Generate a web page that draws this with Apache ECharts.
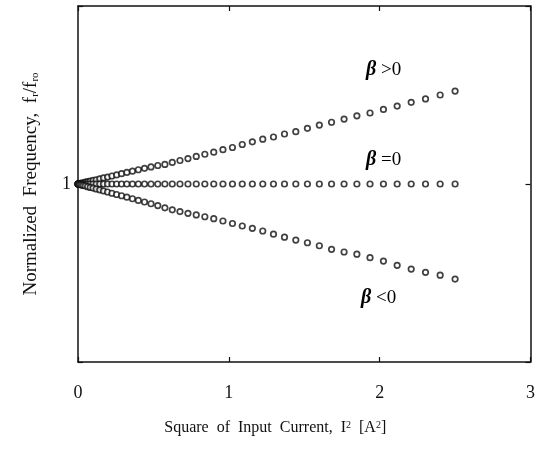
<!DOCTYPE html>
<html>
<head>
<meta charset="utf-8">
<script src="https://cdn.jsdelivr.net/npm/echarts@6/dist/echarts.min.js"></script>
<style>
html,body{margin:0;padding:0;background:#fff;}
#chart{width:538px;height:457px;}
</style>
</head>
<body>
<div id="chart"></div>
<script>
// Square of input current I^2 [A^2] for each measured point
const currentSquared = [
  0.000, 0.001, 0.004, 0.009, 0.016, 0.025, 0.036, 0.049, 0.064, 0.081,
  0.100, 0.121, 0.144, 0.169, 0.196, 0.225, 0.256, 0.289, 0.324, 0.361,
  0.400, 0.441, 0.484, 0.529, 0.576, 0.625, 0.676, 0.729, 0.784, 0.841,
  0.900, 0.961, 1.024, 1.089, 1.156, 1.225, 1.296, 1.369, 1.444, 1.521,
  1.600, 1.681, 1.764, 1.849, 1.936, 2.025, 2.116, 2.209, 2.304, 2.401,
  2.500
];
// Normalized frequency fr/fro, beta > 0
const betaPositive = [
  1.000, 1.000, 1.001, 1.002, 1.003, 1.005, 1.007, 1.010, 1.013, 1.016,
  1.020, 1.024, 1.029, 1.034, 1.039, 1.045, 1.051, 1.058, 1.065, 1.072,
  1.080, 1.088, 1.096, 1.104, 1.110, 1.121, 1.132, 1.143, 1.155, 1.167,
  1.179, 1.193, 1.205, 1.222, 1.237, 1.252, 1.264, 1.281, 1.294, 1.313,
  1.331, 1.347, 1.365, 1.383, 1.399, 1.419, 1.438, 1.459, 1.478, 1.500,
  1.522
];
// beta = 0
const betaZero = [
  1.000, 1.000, 1.000, 1.000, 1.000, 1.000, 1.000, 1.000, 1.000, 1.000,
  1.000, 1.000, 1.000, 1.000, 1.000, 1.000, 1.000, 1.000, 1.000, 1.000,
  1.000, 1.000, 1.000, 1.000, 1.000, 1.000, 1.000, 1.000, 1.000, 1.000,
  1.000, 1.000, 1.000, 1.000, 1.000, 1.000, 1.000, 1.000, 1.000, 1.000,
  1.000, 1.000, 1.000, 1.000, 1.000, 1.000, 1.000, 1.000, 1.000, 1.000,
  1.000
];
// beta < 0
const betaNegative = [
  1.000, 1.000, 0.999, 0.998, 0.996, 0.994, 0.992, 0.989, 0.985, 0.981,
  0.977, 0.972, 0.967, 0.961, 0.955, 0.948, 0.941, 0.934, 0.926, 0.917,
  0.908, 0.899, 0.889, 0.879, 0.866, 0.855, 0.845, 0.835, 0.826, 0.816,
  0.805, 0.792, 0.778, 0.764, 0.751, 0.736, 0.718, 0.701, 0.685, 0.670,
  0.653, 0.633, 0.618, 0.606, 0.586, 0.567, 0.543, 0.522, 0.504, 0.488,
  0.466
];
const xTicks = ['0', '1', '2', '3'];
const yTickLabel = '1';

const serif = '"Liberation Serif", "DejaVu Serif", serif';
const ink = '#111';

function pairs(ys) { return currentSquared.map((x, i) => [x, ys[i]]); }

const markerStyle = { color: '#fff', borderColor: ink, borderWidth: 1.7 };
function series(name, ys) {
  return {
    name: name, type: 'scatter', data: pairs(ys),
    symbol: 'circle', symbolSize: 5.5, itemStyle: markerStyle,
    silent: true, animation: false
  };
}

const betaRich = {
  b: { fontFamily: serif, fontStyle: 'italic', fontWeight: 'bold', fontSize: 20, color: ink },
  t: { fontFamily: serif, fontSize: 19, color: ink }
};
function betaLabel(text, x, y) {
  return { type: 'text', x: x, y: y, silent: true,
    style: { text: '{b|β}{t|' + text + '}', rich: betaRich, verticalAlign: 'middle', align: 'left' } };
}

const chart = echarts.init(document.getElementById('chart'));
chart.setOption({
  animation: false,
  backgroundColor: '#fff',
  grid: { left: 78, right: 6, top: 6, bottom: 95, containLabel: false },
  xAxis: [{
    type: 'value', min: 0, max: 3, interval: 1, position: 'bottom',
    axisLine: { show: true, onZero: false, lineStyle: { color: ink, width: 1.5 } },
    axisTick: { show: true, inside: true, length: 5, lineStyle: { color: ink, width: 1.2 } },
    axisLabel: { fontFamily: serif, fontSize: 18, color: ink, margin: 22,
      formatter: v => xTicks[Math.round(v)] },
    splitLine: { show: false },
    name: 'Square  of  Input  Current,  I{p|2}  [A{p|2}]',
    nameLocation: 'middle', nameGap: 58,
    nameTextStyle: { fontFamily: serif, fontSize: 16, color: ink, padding: [0, 58, 0, 0],
      rich: { p: { fontFamily: serif, fontSize: 10, color: ink, verticalAlign: 'top' } } }
  }, {
    type: 'value', min: 0, max: 3, interval: 1, position: 'top',
    axisLine: { show: true, onZero: false, lineStyle: { color: ink, width: 1.5 } },
    axisTick: { show: true, inside: true, length: 5, lineStyle: { color: ink, width: 1.2 } },
    axisLabel: { show: false }, splitLine: { show: false }
  }],
  yAxis: [{
    type: 'value', min: 0, max: 2, interval: 1, position: 'left',
    axisLine: { show: true, onZero: false, lineStyle: { color: ink, width: 1.5 } },
    axisTick: { show: true, inside: true, length: 5, lineStyle: { color: ink, width: 1.2 } },
    axisLabel: { fontFamily: serif, fontSize: 18, color: ink, margin: 7,
      formatter: v => (Math.abs(v - 1) < 1e-9 ? yTickLabel : '') },
    splitLine: { show: false },
    name: 'Normalized  Frequency,  f{s|r}/f{s|ro}',
    nameLocation: 'middle', nameGap: 37,
    nameTextStyle: { fontFamily: serif, fontSize: 19, color: ink,
      rich: { s: { fontFamily: serif, fontSize: 11, color: ink, verticalAlign: 'bottom' } } }
  }, {
    type: 'value', min: 0, max: 2, interval: 1, position: 'right',
    axisLine: { show: true, onZero: false, lineStyle: { color: ink, width: 1.5 } },
    axisTick: { show: true, inside: true, length: 5, lineStyle: { color: ink, width: 1.2 } },
    axisLabel: { show: false }, splitLine: { show: false }
  }],
  series: [
    series('beta>0', betaPositive),
    series('beta=0', betaZero),
    series('beta<0', betaNegative)
  ],
  graphic: [
    betaLabel(' >0', 366, 70),
    betaLabel(' =0', 366, 160),
    betaLabel(' <0', 361, 298)
  ]
});
</script>
</body>
</html>
